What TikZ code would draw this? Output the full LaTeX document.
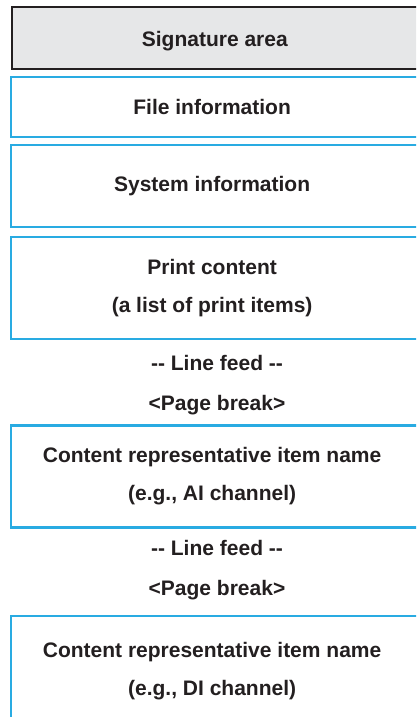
\documentclass[tikz,border=0pt]{standalone}
\usepackage{fontspec}
\usepackage{tikz}
\newfontfamily\boxfont{Liberation Sans}
\usetikzlibrary{positioning}
\definecolor{ink}{HTML}{231F20}
\definecolor{sigfill}{HTML}{E6E7E8}
\definecolor{skyblue}{HTML}{29ABE2}

\begin{document}
\begin{tikzpicture}[
    x=1pt, y=-1pt,
    txt/.style={align=center, text=ink, inner sep=0pt,
                font=\boxfont\fontsize{21}{38}\selectfont\bfseries},
    boxtxt/.style={txt, xshift=-9pt},
    box/.style={rectangle, draw=skyblue, line width=2.2pt, anchor=west,
                minimum width=420pt, inner sep=0pt},
    sigbox/.style={box, draw=ink, fill=sigfill, line width=2.6pt}
  ]
    \path[use as bounding box, clip] (0,0) rectangle (416,717);

    % stacked areas of the printout
    \node[sigbox, minimum height=62pt,
          label={[boxtxt, xshift=2pt, yshift=-3pt, name=sigtxt]center:Signature area}] (sig) at (10.5,38) {};
    \node[box, minimum height=60pt,
          label={[boxtxt, name=filetxt]center:File information}] (file) at (10,107) {};
    \node[box, minimum height=82pt,
          label={[boxtxt, name=systxt]center:System information}] (sys) at (10,186) {};
    \node[box, minimum height=102pt,
          label={[boxtxt, name=printtxt]center:Print content\\(a list of print items)}] (print) at (10,288) {};

    \node[txt] (feed1) at (217,363) {-- Line feed --};
    \node[txt] (break1) at (217,405) {<Page break>};

    \node[box, minimum height=102pt,
          label={[boxtxt, name=aitxt]center:Content representative item name\\(e.g., AI channel)}] (ai) at (10,476.5) {};

    \node[txt] (feed2) at (217,548) {-- Line feed --};
    \node[txt] (break2) at (217,590) {<Page break>};

    \node[box, minimum height=110pt,
          label={[boxtxt, name=ditxt]center:Content representative item name\\(e.g., DI channel)}] (di) at (10,671) {};
  \end{tikzpicture}
\end{document}
